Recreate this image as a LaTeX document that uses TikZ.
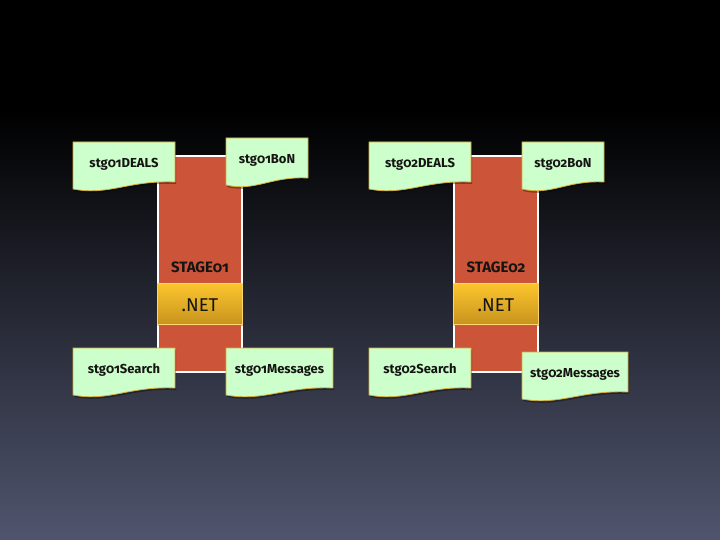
\documentclass[tikz,border=0pt]{standalone}
\usepackage{fontspec}
\setmainfont{Fira Sans}[Numbers=OldStyle]
\usetikzlibrary{positioning,shapes,shadows}
\definecolor{stagered}{RGB}{204,84,56}
\definecolor{docgreen}{RGB}{204,255,204}
\definecolor{docline}{RGB}{214,172,52}
\definecolor{goldtop}{RGB}{252,198,46}
\definecolor{goldbot}{RGB}{200,148,30}
\definecolor{bgbot}{RGB}{80,85,110}
\definecolor{ink}{RGB}{22,20,18}
\newcommand{\docsheet}[5]{%
  \draw[docpage] (#2,#3) -- ++(#4,0) -- ++(0,40) .. controls +(-0.45*#4,-2) and +(0.35*#4,7) .. ++(-#4,7) -- cycle;
  \node[doclabel] (#1) at ({#2+0.5*#4},{#3+22.5}) {#5};}

\begin{document}
\begin{tikzpicture} [x=1pt,y=-1pt,node distance=296pt,
  stage/.style={draw=white,line width=2pt,fill=stagered,minimum width=84pt,minimum height=216pt,inner sep=0pt},
  dotnet/.style={draw=goldtop!70!white,line width=0.6pt,top color=goldtop,bottom color=goldbot,minimum width=85pt,minimum height=41pt,inner sep=0pt,text height=15.5pt,text depth=0pt,font=\fontsize{18.5}{20}\selectfont,text=ink,drop shadow={opacity=0.5,shadow xshift=0pt,shadow yshift=-2pt}},
  stagename/.style={font=\bfseries\fontsize{15}{17}\selectfont,text=ink},
  docpage/.style={draw=docline,line width=0.8pt,fill=docgreen,preaction={fill=black,opacity=0.35,transform canvas={shift={(1pt,-2pt)}}}},
  doclabel/.style={inner sep=0pt,font=\bfseries\fontsize{13}{15}\selectfont,text=ink}]

  \useasboundingbox (0,0) rectangle (720,540);
  \fill[black] (0,0) rectangle (720,111);
  \shade[top color=black,bottom color=bgbot] (0,110) rectangle (720,540);

  \node[stage] (s1) at (200,264) {};
  \node[stage] (s2) [right of=s1] {};

  \node[stagename] (t1) at (200,267) {STAGE01};
  \node[stagename] (t2) [right of=t1] {STAGE02};

  \node[dotnet] (n1) [below of=s1,node distance=39.5pt] {.NET};
  \node[dotnet] (n2) [below of=s2,node distance=39.5pt] {.NET};

  \docsheet{d1}{73}{142}{102}{stg01DEALS}
  \docsheet{b1}{226}{138}{82}{stg01BoN}
  \docsheet{q1}{73}{348}{102}{stg01Search}
  \docsheet{m1}{226}{348}{107}{stg01Messages}

  \docsheet{d2}{369}{142}{102}{stg02DEALS}
  \docsheet{b2}{522}{142}{82}{stg02BoN}
  \docsheet{q2}{369}{348}{102}{stg02Search}
  \docsheet{m2}{522}{352}{106}{stg02Messages}

\end{tikzpicture}
\end{document}
